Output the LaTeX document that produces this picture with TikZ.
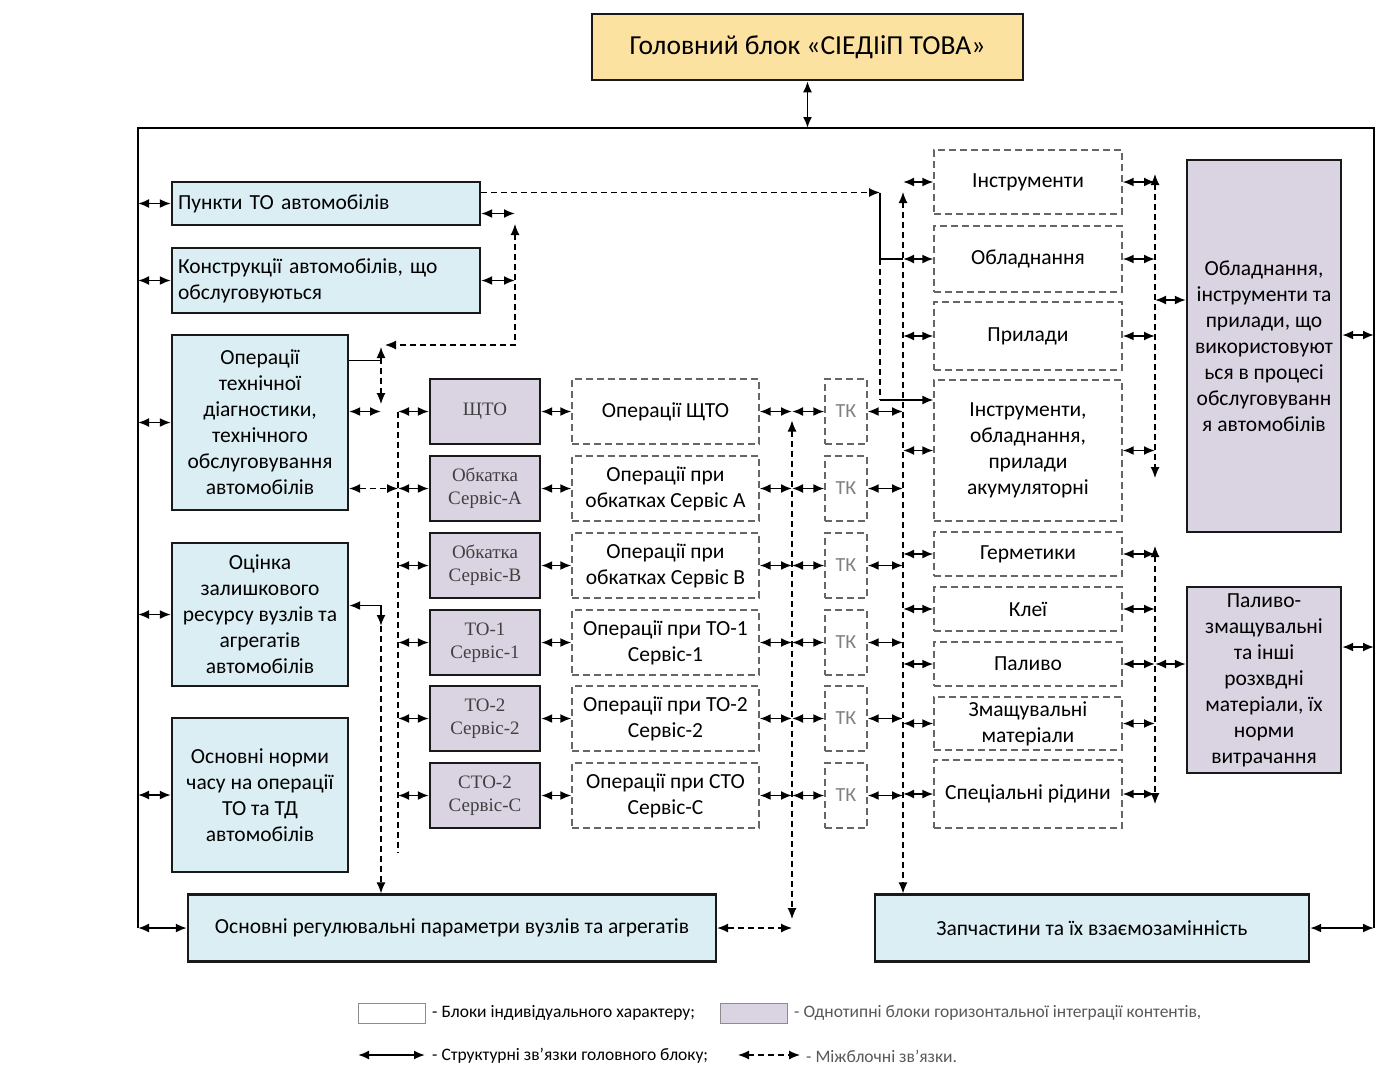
\documentclass[tikz,border=0pt]{standalone}
\usepackage{fontspec}
\setmainfont{Carlito}
\newfontfamily\serifx{Liberation Serif}
\usetikzlibrary{arrows.meta,calc}
\definecolor{bluef}{RGB}{219,238,243}
\definecolor{lavf}{RGB}{218,212,226}
\definecolor{titlef}{RGB}{252,226,160}
\begin{document}
\begin{tikzpicture}[x=1pt,y=-1pt,
  bbox/.style={draw=black!90, line width=2.3pt, fill=bluef, align=center, inner sep=0pt, font=\fontsize{21.5}{26}\selectfont},
  lbox/.style={draw=black!90, line width=2.3pt, fill=lavf, align=center, inner sep=0pt, minimum width=110pt, minimum height=65pt, font=\serifx\fontsize{19}{23}\selectfont, text=black!75},
  dbox/.style={draw=black!60, line width=1.3pt, dash pattern=on 7pt off 4pt, align=center, inner sep=0pt, font=\fontsize{21.5}{26}\selectfont},
  opbox/.style={dbox, minimum width=187pt, minimum height=65pt},
  tkbox/.style={dbox, minimum width=42pt, minimum height=65pt, text=black!50, font=\fontsize{20}{22}\selectfont},
  rbox/.style={dbox, minimum width=188pt},
  tip/.tip={Latex[length=11pt,width=9pt]},
  dbl/.style={line width=1.9pt, tip-tip},
  dashln/.style={line width=1.2pt, dash pattern=on 6pt off 4pt},
  bus/.style={line width=2.5pt},
  leg/.style={anchor=west, inner sep=0pt, font=\fontsize{17.5}{20}\selectfont},
]
\useasboundingbox (0,0) rectangle (1388,1066);
\fill[white] (0,0) rectangle (1388,1066);

% ---------- main blocks ----------
\node[draw=black!90, line width=2.5pt, fill=titlef, minimum width=431pt, minimum height=66pt, inner sep=0pt, font=\fontsize{27.5}{30}\selectfont] (title) at (807.5,47) {Головний блок «СІЕДІіП ТОВА»};

\node[bbox, minimum width=308pt, minimum height=43pt, text width=296pt, align=left] (punkty) at (326,203.5) {Пункти ТО автомобілів};
\node[bbox, minimum width=308pt, minimum height=65pt, text width=296pt, align=left] (konstr) at (326,280.5) {Конструкції автомобілів, що\\обслуговуються};
\node[bbox, minimum width=176pt, minimum height=175pt] (operdiag) at (260,422.5) {Операції\\технічної\\діагностики,\\технічного\\обслуговування\\автомобілів};
\node[bbox, minimum width=176pt, minimum height=143pt] (otsinka) at (260,614.5) {Оцінка\\залишкового\\ресурсу вузлів та\\агрегатів\\автомобілів};
\node[bbox, minimum width=176pt, minimum height=154pt] (normy) at (260,795) {Основні норми\\часу на операції\\ТО та ТД\\автомобілів};
\node[bbox, minimum width=528pt, minimum height=67pt] (regul) at (452,928) {Основні регулювальні параметри вузлів та агрегатів};
\node[bbox, minimum width=434pt, minimum height=67pt] (zapch) at (1092,928) {Запчастини та їх взаємозамінність};

\node[bbox, fill=lavf, minimum width=154pt, minimum height=372pt] (obladR) at (1264,346) {Обладнання,\\інструменти та\\прилади, що\\використовуют\\ься в процесі\\обслуговуванн\\я автомобілів};
\node[bbox, fill=lavf, minimum width=154pt, minimum height=186pt] (palyvoR) at (1264,680) {Паливо-\\змащувальні\\та інші\\розхвдні\\матеріали, їх\\норми\\витрачання};

% lavender middle blocks
\node[lbox] (lav1) at (485,411.5) {ЩТО};
\node[lbox] (lav2) at (485,488.5) {Обкатка\\Сервіс-А};
\node[lbox] (lav3) at (485,565.5) {Обкатка\\Сервіс-В};
\node[lbox] (lav4) at (485,642.5) {ТО-1\\Сервіс-1};
\node[lbox] (lav5) at (485,718.5) {ТО-2\\Сервіс-2};
\node[lbox] (lav6) at (485,795.5) {СТО-2\\Сервіс-С};

% operations
\node[opbox] (op1) at (665.5,411.5) {Операції ЩТО};
\node[opbox] (op2) at (665.5,488.5) {Операції при\\обкатках Сервіс А};
\node[opbox] (op3) at (665.5,565.5) {Операції при\\обкатках Сервіс В};
\node[opbox] (op4) at (665.5,642.5) {Операції при ТО-1\\Сервіс-1};
\node[opbox] (op5) at (665.5,718.5) {Операції при ТО-2\\Сервіс-2};
\node[opbox] (op6) at (665.5,795.5) {Операції при СТО\\Сервіс-С};

% TK
\node[tkbox] (tk1) at (846,411.5) {ТК};
\node[tkbox] (tk2) at (846,488.5) {ТК};
\node[tkbox] (tk3) at (846,565.5) {ТК};
\node[tkbox] (tk4) at (846,642.5) {ТК};
\node[tkbox] (tk5) at (846,718.5) {ТК};
\node[tkbox] (tk6) at (846,795.5) {ТК};

% right dashed blocks
\node[rbox, minimum height=64pt] (r1) at (1028,182) {Інструменти};
\node[rbox, minimum height=66pt] (r2) at (1028,259) {Обладнання};
\node[rbox, minimum height=68pt] (r3) at (1028,336) {Прилади};
\node[rbox, minimum height=141pt] (r4) at (1028,450.5) {Інструменти,\\обладнання,\\прилади\\акумуляторні};
\node[rbox, minimum height=44pt] (r5) at (1028,554) {Герметики};
\node[rbox, minimum height=44pt] (r6) at (1028,609) {Клеї};
\node[rbox, minimum height=44pt] (r7) at (1028,664) {Паливо};
\node[rbox, minimum height=53pt] (r8) at (1028,723.5) {Змащувальні\\матеріали};
\node[rbox, minimum height=68pt] (r9) at (1028,794) {Спеціальні рідини};

% ---------- helper coordinates ----------
\coordinate (tl) at (138,128);
\coordinate (tr) at (1374,128);
\coordinate (bl) at (138,928);
\coordinate (br) at (1374,928);
\coordinate (x380) at (381,0);
\coordinate (x398) at (398,0);
\coordinate (x515) at (515,0);
\coordinate (x792) at (792,0);
\coordinate (x880) at (880,0);
\coordinate (x903) at (903,0);
\coordinate (x1155) at (1155,0);

% ---------- main structural bus ----------
\draw[bus] (bl) -- (tl) -- (tr) -- (br);
\draw[dbl] (title.south) -- (title.south |- tl);
\foreach \n in {punkty,konstr,operdiag,otsinka,normy}
  \draw[dbl] (\n.west -| tl) -- (\n.west);
\draw[dbl] (bl) -- (regul.west);
\draw[dbl] ([yshift=11pt]obladR.east) -- ([yshift=11pt]obladR.east -| tr);
\draw[dbl] ([yshift=33pt]palyvoR.east) -- ([yshift=33pt]palyvoR.east -| tr);
\draw[dbl] (zapch.east) -- (br);

% ---------- left cluster ----------
\coordinate (p1) at (515,224);
\coordinate (p3) at (385,345);
\draw[dbl] ([yshift=-10pt]punkty.east) -- ([yshift=-10pt]punkty.east -| x515);
\draw[dbl] (konstr.east) -- (konstr.east -| x515);
\draw[dashln, tip-tip] (p1) |- (p3);

\coordinate (q1) at (381,347);
\coordinate (q1b) at (381,358);
\coordinate (q2) at (381,404);
\draw[line width=1.5pt, -tip] ([yshift=62pt]operdiag.east) -| (q1);
\draw[dashln, -tip] (q1b) -- (q2);
\draw[dbl] (operdiag.east |- lav1.west) -- (lav1.west -| x380);
\draw[dashln, tip-tip] (operdiag.east |- lav2.west) -- (lav2.west -| x398);

\coordinate (q3) at (381,626);
\draw[dbl] ([yshift=9pt]otsinka.east) -| (q3);
\draw[dashln, -tip] (q3) -- (regul.north -| x380);

\coordinate (q4) at (398,852);
\draw[dashln] (lav1.west -| x398) -- (q4);
\foreach \i in {1,...,6}
  \draw[dbl] (lav\i.west -| x398) -- (lav\i.west);

% ---------- middle ----------
\foreach \i in {1,...,6} {
  \draw[dbl] (lav\i.east) -- (op\i.west);
  \draw[dbl] (op\i.east) -- (op\i.east -| x792);
  \draw[dbl] (op\i.east -| x792) -- (tk\i.west);
  \draw[dbl] (tk\i.east) -- (tk\i.east -| x903);
}
\draw[dashln, tip-tip] ($(op1.east -| x792)+(0,9)$) -- ($(regul.east -| x792)+(0,-9)$);
\draw[dashln, tip-tip] (regul.east) -- (regul.east -| x792);

% ---------- right dashed blocks ----------
\foreach \i in {1,...,9} {
  \draw[dbl] (r\i.west -| x903) -- (r\i.west);
  \draw[dbl] (r\i.east) -- (r\i.east -| x1155);
}
\draw[dashln, tip-tip] ($(r1.west -| x903)+(0,10)$) -- (zapch.north -| x903);

\coordinate (u1) at (880,400);
\draw[dashln, -tip] ([yshift=11pt]punkty.east) -- ([yshift=11pt]punkty.east -| x880);
\draw[line width=1.3pt] ([yshift=11pt]punkty.east -| x880) |- (r2.west -| x903);
\draw[dashln] (r2.west -| x880) -- (u1);
\draw[line width=1.5pt, -tip] (u1) -- (u1 -| r4.west);

\coordinate (v1) at (1155,174);
\coordinate (v2) at (1155,478);
\coordinate (v3) at (1155,546);
\coordinate (v4) at (1155,804);
\draw[dashln, tip-tip] (v1) -- (v2);
\draw[dashln, tip-tip] (v3) -- (v4);
\draw[dbl] ([yshift=46pt]obladR.west -| x1155) -- ([yshift=46pt]obladR.west);
\draw[dbl] (r7.east -| x1155) -- (r7.east -| palyvoR.west);

% ---------- legend ----------
\node[draw=black!45, line width=1pt, fill=white, minimum width=67pt, minimum height=20pt, inner sep=0pt] (lg1) at (391.5,1013) {};
\node[leg] (lg1t) at (432,1013) {- Блоки індивідуального характеру;};
\node[draw=black!45, line width=1pt, fill=lavf, minimum width=67pt, minimum height=20pt, inner sep=0pt] (lg2) at (753.5,1013) {};
\node[leg, text=black!65] (lg2t) at (794,1013) {- Однотипні блоки горизонтальної інтеграції контентів,};
\coordinate (la1) at (358,1055);
\coordinate (la2) at (425,1055);
\draw[dbl] (la1) -- (la2);
\node[leg] (la3) at (432,1056) {- Структурні зв’язки головного блоку;};
\coordinate (lb1) at (738,1055);
\coordinate (lb2) at (800,1055);
\draw[dashln, tip-tip] (lb1) -- (lb2);
\node[leg, text=black!65] (lb3) at (806,1056) {- Міжблочні зв’язки.};
\end{tikzpicture}
\end{document}
